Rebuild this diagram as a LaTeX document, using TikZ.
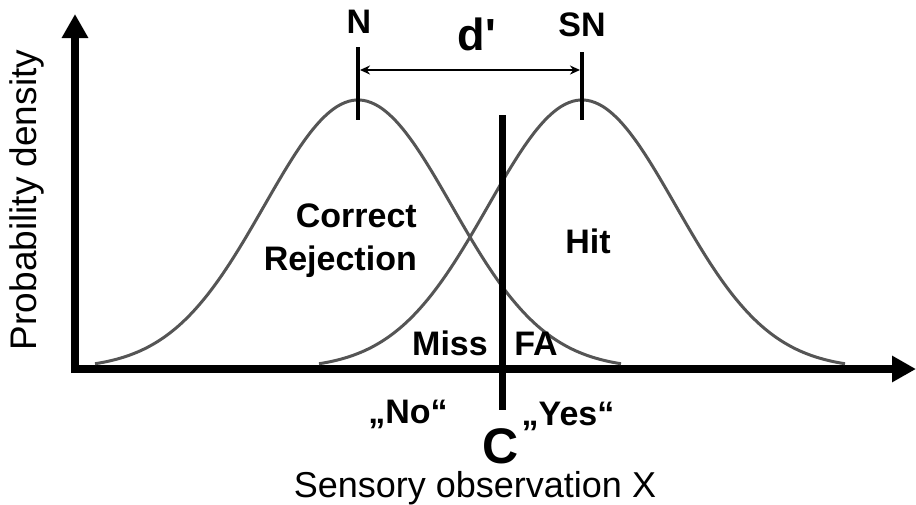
\documentclass[tikz,border=0pt]{standalone}
\usepackage{fontspec}
\setmainfont{Liberation Sans}
\usepackage{tikz}
\usetikzlibrary{arrows.meta, positioning}
\definecolor{curvegray}{RGB}{85, 85, 85}

\begin{document}
\begin{tikzpicture}[
  x=1pt, y=-1pt,
  axis/.style    = {line width=8pt, -{Triangle[length=24pt, width=25pt]}},
  curve/.style   = {draw=curvegray, line width=3pt, smooth},
  crit/.style    = {line width=7pt},
  tick/.style    = {line width=3.5pt},
  dist/.style    = {line width=2pt, {Stealth[length=10pt,width=9pt]}-{Stealth[length=10pt,width=9pt]}},
  lbl/.style     = {font=\fontsize{34}{40}\selectfont\bfseries, inner sep=0pt, anchor=base},
  axlbl/.style   = {font=\fontsize{36}{42}\selectfont, inner sep=0pt},
]
  \useasboundingbox (0,0) rectangle (916,504);

  % Axes
  \coordinate (origin) at (75,373);
  \coordinate (ytip)   at (75,14);
  \coordinate (xleft)  at (71,369);
  \coordinate (xtip)   at (916,369);
  \draw[axis] (origin) -- (ytip);
  \draw[axis] (xleft) -- (xtip);

  % Distributions N and SN
  \draw[curve] plot[domain=95:621, samples=140]
    (\x, {369-269*exp(-(((\x-358)/100)^2)/1.76)});
  \draw[curve] plot[domain=319:845, samples=140]
    (\x, {369-269*exp(-(((\x-582)/100)^2)/1.76)});

  % Criterion
  \coordinate (ctop) at (502,115);
  \coordinate (cbot) at (502,410);
  \draw[crit] (ctop) -- (cbot);

  % d' marker
  \coordinate (ntop)  at (358,47);
  \coordinate (nbot)  at (358,120);
  \coordinate (sntop) at (582,52);
  \coordinate (snbot) at (582,120);
  \draw[tick] (ntop) -- (nbot);
  \draw[tick] (sntop) -- (snbot);
  \coordinate (nmid)  at (360,70);
  \coordinate (snmid) at (580,70);
  \draw[dist] (nmid) -- (snmid);

  % Labels
  \node[lbl] (nlbl)   at (359,33)  {N};
  \node[lbl] (snlbl)  at (582,36)  {SN};
  \node[lbl, font=\fontsize{45}{50}\selectfont\bfseries] (dlbl) at (477,50) {d\textquotesingle};
  \node[lbl, anchor=base east] (corr) at (417,227) {Correct};
  \node[lbl, anchor=base east] (rej)  at (417,270) {Rejection};
  \node[lbl] (hit)    at (588,253) {Hit};
  \node[lbl] (miss)   at (450,355) {Miss};
  \node[lbl] (fa)     at (536,355) {FA};
  \node[lbl] (no)     at (408,423) {„No“};
  \node[lbl] (yes)    at (568,425) {„Yes“};
  \node[lbl, font=\fontsize{50}{54}\selectfont\bfseries] (clbl) at (501,463) {C};
  \node[axlbl, anchor=base] (xlbl) at (475,497) {Sensory observation X};
  \node[axlbl, font=\fontsize{37}{42}\selectfont, rotate=90] (ylbl) at (27,200) {Probability density};
\end{tikzpicture}
\end{document}
